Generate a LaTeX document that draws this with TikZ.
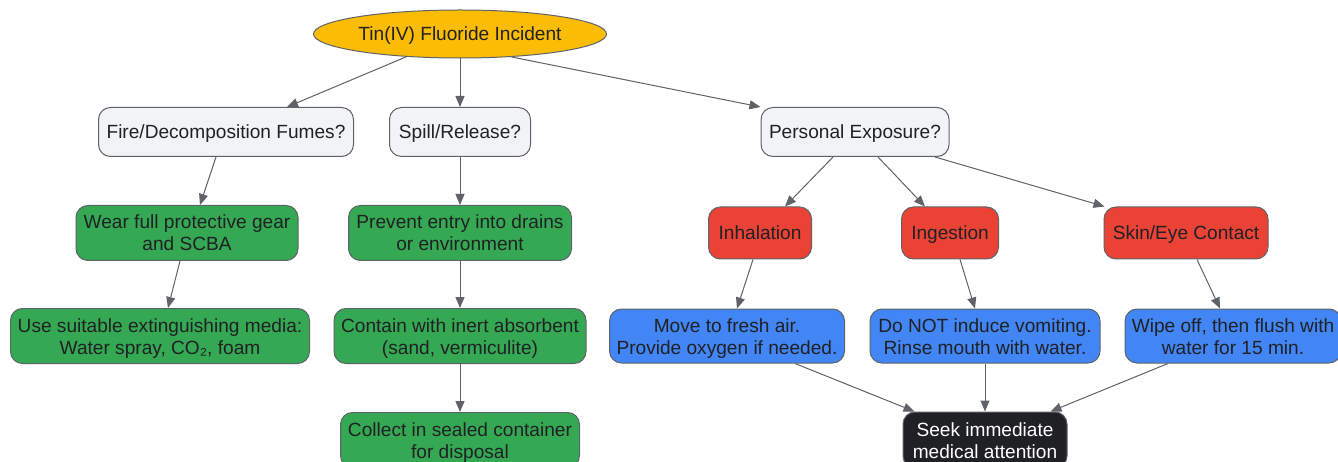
\documentclass[tikz,border=0pt]{standalone}
\usepackage{fontspec}
\setmainfont{Liberation Sans}
\usetikzlibrary{shapes.geometric,arrows.meta,calc}
\definecolor{ink}{HTML}{202124}
\definecolor{edgec}{HTML}{5F6368}
\definecolor{ygold}{HTML}{FBBC05}
\definecolor{gfill}{HTML}{F1F3F4}
\definecolor{ggreen}{HTML}{34A853}
\definecolor{gred}{HTML}{EA4335}
\definecolor{gblue}{HTML}{4285F4}
\definecolor{gdark}{HTML}{202124}
\tikzset{
  box/.style={draw=edgec, line width=1pt, rounded corners=12pt, align=center,
    text=ink, inner sep=0pt, font=\fontsize{19.1}{22}\selectfont, text height=14pt, text depth=0pt},
  two/.style={text height=36pt, text depth=0pt},
  qbox/.style={box, fill=gfill, minimum height=49pt},
  gbox/.style={box, fill=ggreen, minimum height=55pt, two},
  rbox/.style={box, fill=gred, minimum height=52pt},
  bbox/.style={box, fill=gblue, minimum height=54pt, two},
  dbox/.style={box, fill=gdark, text=white, minimum height=56pt, two},
  conn/.style={draw=edgec, line width=1pt, -{Triangle[length=11pt,width=9pt]}},
}
\begin{document}
\begin{tikzpicture}[x=1pt,y=-1pt]
\useasboundingbox (0,0) rectangle (1338,462);
\clip (0,0) rectangle (1338,462);
\fill[white] (0,0) rectangle (1338,462);
\node[ellipse, draw=edgec, line width=1pt, fill=ygold, text=ink, minimum width=293pt, minimum height=48pt, inner sep=0pt, font=\fontsize{19.1}{22}\selectfont, text height=14pt, text depth=0pt] (top) at (460,34) {Tin(IV) Fluoride Incident};
\node[qbox, minimum width=255pt] (fire) at (226,132) {Fire/Decomposition Fumes?};
\node[qbox, minimum width=141pt] (spill) at (460,132) {Spill/Release?};
\node[qbox, minimum width=188pt] (pers) at (855,132) {Personal Exposure?};
\node[gbox, minimum width=222pt] (wear) at (187,233) {Wear full protective gear\\and SCBA};
\node[gbox, minimum width=223pt] (prev) at (460,233) {Prevent entry into drains\\or environment};
\node[rbox, minimum width=103pt] (inh) at (760,233) {Inhalation};
\node[rbox, minimum width=97pt] (ing) at (950,233) {Ingestion};
\node[rbox, minimum width=164pt] (skin) at (1186,233) {Skin/Eye Contact};
\node[gbox, minimum width=299pt] (use) at (160,336) {Use suitable extinguishing media:\\Water spray, CO₂, foam};
\node[gbox, minimum width=252pt] (cont) at (460,336) {Contain with inert absorbent\\(sand, vermiculite)};
\node[bbox, minimum width=235pt] (move) at (727,336) {Move to fresh air.\\Provide oxygen if needed.};
\node[bbox, minimum width=230pt] (donot) at (985,336) {Do NOT induce vomiting.\\Rinse mouth with water.};
\node[bbox, minimum width=216pt] (wipe) at (1233,336) {Wipe off, then flush with\\water for 15 min.};
\node[gbox, minimum width=239pt] (coll) at (460,440) {Collect in sealed container\\for disposal};
\node[dbox, minimum width=164pt] (seek) at (985,440) {Seek immediate\\medical attention};
% connectors
\draw[conn] (top.203.5) -- ($(fire.north)+(61,0)$);
\draw[conn] (top.south) -- (spill.north);
\draw[conn] (top.-24) -- ($(pers.north west)+(0,0)$);
\draw[conn] ($(fire.south)+(-10,0)$) -- ($(wear.north)+(13,0)$);
\draw[conn] ($(wear.south)+(-7,0)$) -- ($(use.north)+(8,0)$);
\draw[conn] (spill.south) -- (prev.north);
\draw[conn] (prev.south) -- (cont.north);
\draw[conn] (cont.south) -- (coll.north);
\draw[conn] ($(pers.south)+(-22,0)$) -- ($(inh.north)+(25,0)$);
\draw[conn] ($(pers.south)+(23,0)$) -- ($(ing.north)+(-25,0)$);
\draw[conn] ($(pers.south)+(80,0)$) -- ($(skin.north west)+(1,0)$);
\draw[conn] ($(inh.south)+(-7,0)$) -- ($(move.north)+(10,0)$);
\draw[conn] ($(ing.south)+(10,0)$) -- ($(donot.north)+(-10,0)$);
\draw[conn] ($(skin.south)+(11,0)$) -- ($(wipe.north)+(-13,0)$);
\draw[conn] ($(move.south)+(68,0)$) -- ($(seek.north west)+(12,0)$);
\draw[conn] (donot.south) -- (seek.north);
\draw[conn] ($(wipe.south)+(-65,0)$) -- ($(seek.north east)+(-17,0)$);
\end{tikzpicture}
\end{document}
